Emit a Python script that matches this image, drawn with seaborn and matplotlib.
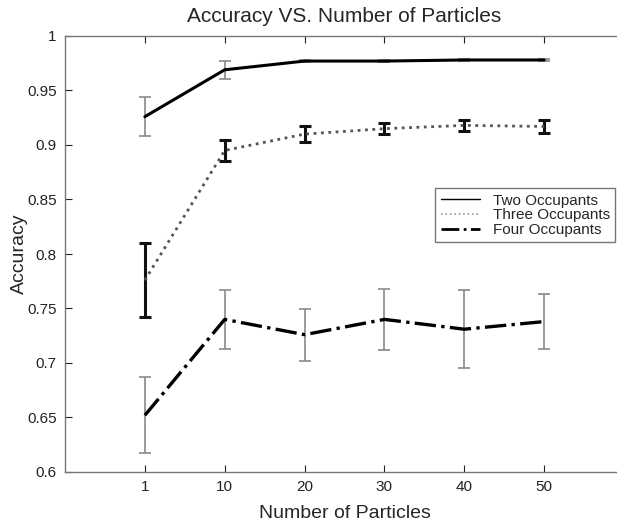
import numpy as np
import pandas as pd
import matplotlib
matplotlib.use("Agg")
import matplotlib.pyplot as plt
from matplotlib.lines import Line2D
import seaborn as sns

# data
particles = ["1", "10", "20", "30", "40", "50"]
two_mean = [0.926, 0.969, 0.977, 0.977, 0.978, 0.978]
two_err = [0.018, 0.008, 0.001, 0.001, 0.001, 0.001]
three_mean = [0.776, 0.895, 0.910, 0.915, 0.918, 0.917]
three_err = [0.034, 0.010, 0.007, 0.005, 0.005, 0.006]
four_mean = [0.652, 0.740, 0.726, 0.740, 0.731, 0.738]
four_err = [0.035, 0.027, 0.024, 0.028, 0.036, 0.025]
series_names = ["Two Occupants", "Three Occupants", "Four Occupants"]

pos = np.arange(1, len(particles) + 1)
df = pd.DataFrame({
    "pos": np.tile(pos, 3),
    "acc": two_mean + three_mean + four_mean,
    "err": two_err + three_err + four_err,
    "series": np.repeat(series_names, len(particles)),
})

sns.set_theme(style="ticks")
plt.rcParams["font.family"] = ["Liberation Sans", "DejaVu Sans"]

fig = plt.figure(figsize=(6.17, 5.22), dpi=100)
ax = fig.add_axes([65 / 617, 50 / 522, 559 / 617, 436 / 522])

styles = {
    "Two Occupants": dict(ls="-", lw=2.2, color="black", ecol="#8a8a8a", elw=1.2),
    "Three Occupants": dict(ls=":", lw=2.0, color="#555555", ecol="#111111", elw=2.2),
    "Four Occupants": dict(ls="-.", lw=2.4, color="black", ecol="#8a8a8a", elw=1.2),
}

for name in series_names:
    sub = df[df["series"] == name]
    st = styles[name]
    ax.errorbar(sub["pos"], sub["acc"], yerr=sub["err"], fmt="none",
                ecolor=st["ecol"], elinewidth=st["elw"], capsize=4,
                capthick=st["elw"], zorder=2)
    sns.lineplot(data=sub, x="pos", y="acc", ax=ax, color=st["color"],
                 linewidth=st["lw"], linestyle=st["ls"], legend=False,
                 zorder=3)

ax.set_xlim(0, 7)
ax.set_ylim(0.6, 1.0)
ax.set_xticks(pos)
ax.set_xticklabels(particles)
ax.set_yticks(np.arange(0.6, 1.001, 0.05))
ax.set_yticklabels(["0.6", "0.65", "0.7", "0.75", "0.8", "0.85", "0.9", "0.95", "1"])
ax.tick_params(direction="in", length=5, width=0.8, labelsize=11, colors="#222222",
               top=True, right=False, pad=6)
for sp in ax.spines.values():
    sp.set_color("#777777")
    sp.set_linewidth(1.0)
ax.spines["right"].set_visible(False)

ax.set_title("Accuracy VS. Number of Particles", fontsize=15, pad=10)
ax.set_xlabel("Number of Particles", fontsize=14, labelpad=8)
ax.set_ylabel("Accuracy", fontsize=14, labelpad=-1)

handles = [
    Line2D([], [], color="black", lw=1.0, ls="-"),
    Line2D([], [], color="#999999", lw=1.2, ls=":"),
    Line2D([], [], color="black", lw=2.0, ls="-."),
]
leg = ax.legend(handles, series_names, loc="upper right", bbox_to_anchor=(0.984, 0.651),
                fontsize=11, frameon=True, fancybox=False, framealpha=1,
                edgecolor="#777777", handlelength=2.6, borderpad=0.35,
                labelspacing=0.05, handletextpad=0.8, borderaxespad=0)
leg.get_frame().set_linewidth(1.0)

fig.savefig("out.png", dpi=100)
